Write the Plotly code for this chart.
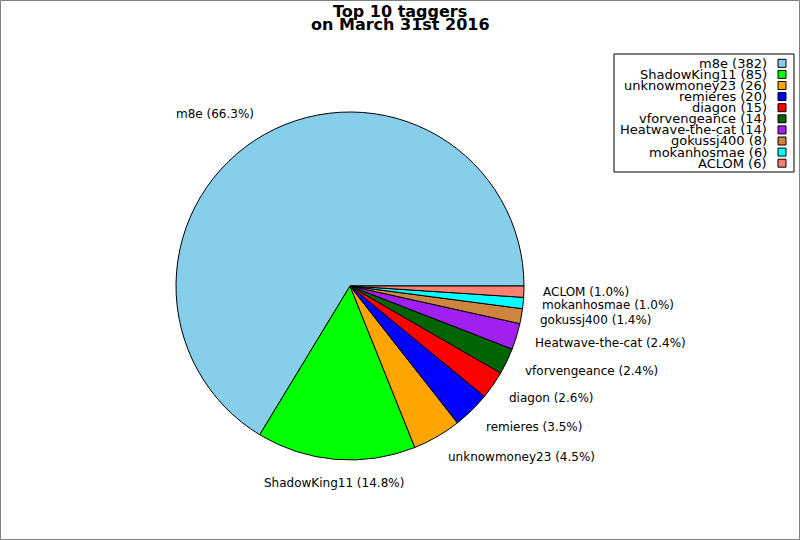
import math
import plotly.graph_objects as go

# top 10 taggers
taggers = ["m8e", "ShadowKing11", "unknowmoney23", "remieres", "diagon",
           "vforvengeance", "Heatwave-the-cat", "gokussj400", "mokanhosmae", "ACLOM"]
counts = [382, 85, 26, 20, 15, 14, 14, 8, 6, 6]
colors = ["#87CEEB", "#00FF00", "#FFA500", "#0000FF", "#FF0000",
          "#006400", "#A020F0", "#CD853F", "#00FFFF", "#FA8072"]
title_lines = ["Top 10 taggers", "on March 31st 2016"]

FONT = "DejaVu Sans"
W, H = 800, 540
total = sum(counts)

# pie placement (pixels)
CX, CY, R = 350, 286, 174
dom_x = [(CX - R) / W, (CX + R) / W]
dom_y = [1 - (CY + R) / H, 1 - (CY - R) / H]

# plotly puts the first slice clockwise of `rotation` when going counterclockwise,
# so shift it to make m8e start at 3 o'clock and run counterclockwise
rot = 90 + 360 * (1 - counts[0] / total)

fig = go.Figure(go.Pie(
    labels=taggers,
    values=counts,
    textinfo="none",
    sort=False,
    direction="counterclockwise",
    rotation=rot,
    marker=dict(colors=colors, line=dict(color="black", width=1)),
    domain=dict(x=dom_x, y=dom_y),
    showlegend=False,
    hoverinfo="label+value+percent",
))

annotations = []
# two tight title lines
for i, line in enumerate(title_lines):
    annotations.append(dict(x=0.5, y=1 - (11 + 13.5 * i) / H, xref="paper", yref="paper", showarrow=False,
                            text=f"<b>{line}</b>", xanchor="center", yanchor="middle",
                            font=dict(family=FONT, size=16, color="black")))

# slice labels outside the pie at 1.1 r, on the mid angle of each slice
cum = 0
for t, c in zip(taggers, counts):
    mid = math.radians(360 * (cum + c / 2) / total)
    cum += c
    cs, sn = math.cos(mid), math.sin(mid)
    px = CX + 1.1 * R * cs
    py = CY - 1.1 * R * sn
    anchor = "left" if cs > 0.15 else ("right" if cs < -0.15 else "center")
    annotations.append(dict(x=px / W, y=1 - py / H, xref="paper", yref="paper", showarrow=False,
                            text=f"{t} ({100 * c / total:.1f}%)", xanchor=anchor, yanchor="middle",
                            yshift=6 * sn, font=dict(family=FONT, size=12, color="black")))

# legend: text on the left, coloured box on the right
shapes = [dict(type="rect", xref="paper", yref="paper", x0=0.5 / W, x1=1 - 0.5 / W, y0=0.5 / H, y1=1 - 0.5 / H,
               line=dict(color="#808080", width=1)),
          dict(type="rect", xref="paper", yref="paper", x0=614 / W, x1=794 / W,
               y0=1 - 172 / H, y1=1 - 54 / H, line=dict(color="black", width=1),
               fillcolor="white", layer="below")]
for i, (t, c, col) in enumerate(zip(taggers, counts, colors)):
    ypx = 63.3 + i * 11.1
    annotations.append(dict(x=769 / W, y=1 - ypx / H, xref="paper", yref="paper",
                            text=f"{t} ({c})", showarrow=False, xanchor="right", yanchor="middle",
                            font=dict(family=FONT, size=13, color="black")))
    shapes.append(dict(type="rect", xref="paper", yref="paper",
                       x0=778 / W, x1=786 / W, y0=1 - (ypx + 4) / H, y1=1 - (ypx - 4) / H,
                       fillcolor=col, line=dict(color="black", width=1)))

fig.update_layout(
    width=W, height=H,
    margin=dict(l=0, r=0, t=0, b=0),
    paper_bgcolor="white",
    shapes=shapes,
    annotations=annotations,
)

fig.write_html("out.html", config={"displayModeBar": False},
               post_script="document.body.style.margin='0';")
